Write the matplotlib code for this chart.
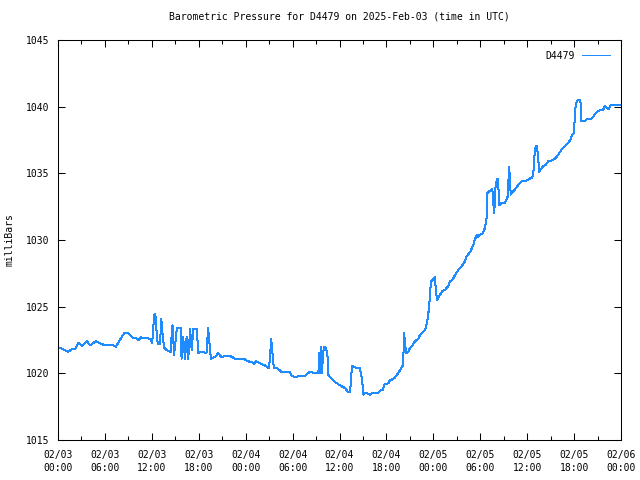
#!/usr/bin/env python3
from datetime import datetime, timedelta
import matplotlib
matplotlib.use("Agg")
import matplotlib.pyplot as plt
import matplotlib.dates as mdates

STATION = "D4479"
START = datetime(2025, 2, 3)
LINE_COLOR = "#1e8cff"

# hours after 2025-02-03 00:00 UTC
hours = [
    0.1, 0.5, 0.9, 1.3, 1.75, 2.2, 2.6, 3.1, 3.7, 4.1, 4.8, 5.4, 6.0, 6.65, 7.1,
    7.4, 7.9, 8.5, 9.0, 9.5, 10.1, 10.3, 10.6, 11.1, 11.75, 12.05, 12.3, 12.45,
    12.6, 12.75, 13.05, 13.2, 13.35, 13.55, 13.9, 14.4, 14.55, 14.65, 14.85,
    15.2, 15.7, 15.8, 16.0, 16.25, 16.45, 16.65, 16.9, 17.1, 17.3, 17.75, 17.95,
    18.15, 19.0, 19.2, 19.35, 19.55, 20.1, 20.5, 20.85, 22.0, 22.65, 23.0, 23.7,
    24.35, 24.95, 25.05, 25.3, 25.85, 26.45, 26.95, 27.1, 27.25, 27.35, 27.5,
    27.6, 28.0, 28.6, 29.65, 29.9, 30.5, 30.7, 31.6, 32.15, 33.3, 33.4, 33.5,
    33.65, 33.75, 33.9, 34.05, 34.25, 34.45, 34.55, 34.8, 35.15, 35.55, 36.05,
    36.7, 37.1, 37.35, 37.6, 37.85, 38.2, 38.6, 38.75, 38.9, 39.05, 39.25, 39.5,
    39.9, 40.25, 40.95, 41.2, 41.5, 41.8, 42.25, 42.45, 42.8, 43.1, 43.5, 43.75,
    44.1, 44.2, 44.25, 44.4, 44.5, 44.8, 45.0, 45.35, 45.65, 46.1, 46.3, 46.95,
    47.2, 47.45, 47.7, 47.9, 48.2, 48.35, 48.5, 48.85, 49.2, 49.5, 49.9, 50.15,
    50.5, 50.8, 51.2, 51.4, 51.6, 52.05, 52.25, 52.7, 53.1, 53.3, 53.55, 53.7,
    53.95, 54.3, 54.6, 54.75, 54.8, 54.9, 55.25, 55.55, 55.7, 55.8, 55.9, 56.1,
    56.25, 56.45, 56.55, 56.8, 57.15, 57.4, 57.5, 57.7, 57.8, 57.9, 58.1, 58.45,
    59.1, 59.3, 59.7, 60.35, 60.65, 60.8, 61.0, 61.2, 61.35, 61.55, 61.65, 62.0,
    62.3, 62.7, 62.9, 63.25, 63.55, 64.0, 64.35, 64.6, 64.9, 65.25, 65.5, 65.75,
    66.0, 66.1, 66.25, 66.45, 66.75, 66.85, 66.95, 67.1, 67.4, 67.8, 68.15,
    68.45, 68.65, 69.1, 69.7, 69.95, 70.15, 70.45, 70.7, 71.25, 71.9,
]

pressure = [
    1021.9, 1021.85, 1021.75, 1021.6, 1021.8, 1021.8, 1022.3, 1022.05, 1022.4,
    1022.1, 1022.4, 1022.25, 1022.1, 1022.1, 1022.1, 1022.0, 1022.5, 1023.05,
    1023.0, 1022.7, 1022.6, 1022.5, 1022.7, 1022.65, 1022.6, 1022.3, 1024.4,
    1024.45, 1023.2, 1022.2, 1022.2, 1024.1, 1023.1, 1021.95, 1021.75, 1021.6,
    1023.0, 1023.6, 1021.4, 1023.4, 1023.4, 1021.1, 1022.75, 1021.1, 1022.75,
    1021.1, 1023.3, 1021.75, 1023.3, 1023.3, 1021.5, 1021.6, 1021.55, 1023.4,
    1022.4, 1021.1, 1021.25, 1021.5, 1021.25, 1021.3, 1021.1, 1021.05, 1021.1,
    1020.9, 1020.8, 1020.7, 1020.9, 1020.75, 1020.6, 1020.4, 1021.0, 1022.6,
    1022.1, 1021.0, 1020.4, 1020.4, 1020.1, 1020.1, 1019.8, 1019.7, 1019.8,
    1019.8, 1020.1, 1020.0, 1021.5, 1020.0, 1022.0, 1020.0, 1021.5, 1022.0,
    1021.9, 1021.5, 1019.9, 1019.7, 1019.5, 1019.3, 1019.1, 1018.9, 1018.6,
    1018.6, 1020.55, 1020.5, 1020.4, 1020.4, 1019.9, 1019.5, 1018.4, 1018.5,
    1018.5, 1018.4, 1018.55, 1018.55, 1018.7, 1018.75, 1019.2, 1019.25, 1019.5,
    1019.55, 1019.7, 1020.0, 1020.25, 1020.6, 1021.75, 1023.0, 1022.25, 1021.5,
    1021.6, 1021.9, 1022.1, 1022.4, 1022.6, 1022.9, 1023.25, 1023.8, 1024.9,
    1026.9, 1027.0, 1027.2, 1026.0, 1025.5, 1025.9, 1026.2, 1026.25, 1026.55,
    1026.9, 1027.05, 1027.4, 1027.75, 1027.9, 1028.0, 1028.4, 1028.75, 1029.1,
    1029.6, 1030.0, 1030.4, 1030.2, 1030.4, 1030.5, 1030.9, 1031.5, 1031.6,
    1033.5, 1033.7, 1033.8, 1032.55, 1032.0, 1033.75, 1034.5, 1034.6, 1032.6,
    1032.7, 1032.8, 1032.8, 1033.1, 1033.25, 1035.5, 1034.5, 1033.4, 1033.6,
    1033.8, 1034.3, 1034.4, 1034.4, 1034.6, 1034.7, 1035.1, 1036.9, 1037.05,
    1036.5, 1035.1, 1035.25, 1035.5, 1035.6, 1035.9, 1035.9, 1036.0, 1036.1,
    1036.4, 1036.75, 1036.9, 1037.1, 1037.3, 1037.5, 1037.9, 1038.0, 1039.5,
    1040.25, 1040.5, 1040.5, 1040.25, 1038.9, 1038.9, 1038.95, 1039.1, 1039.05,
    1039.25, 1039.45, 1039.7, 1039.75, 1040.05, 1039.95, 1039.8, 1040.15,
    1040.15, 1040.15,
]

y_ticks = [1015, 1020, 1025, 1030, 1035, 1040, 1045]

plt.rcParams['font.family'] = ['DejaVu Sans Mono']
plt.rcParams['font.size'] = 7

times = [START + timedelta(hours=h) for h in hours]

fig = plt.figure(figsize=(6.4, 4.8), dpi=100)
ax = fig.add_axes([58 / 640, 40 / 480, 563 / 640, 400 / 480])

ax.plot(times, pressure, color=LINE_COLOR, linewidth=0.72, antialiased=False,
        label=STATION)

ax.set_xlim(START, START + timedelta(hours=72))
ax.set_ylim(y_ticks[0], y_ticks[-1])
ax.set_yticks(y_ticks)

ax.xaxis.set_major_locator(mdates.HourLocator(byhour=[0, 6, 12, 18]))
ax.xaxis.set_minor_locator(mdates.HourLocator(byhour=[3, 9, 15, 21]))
ax.xaxis.set_major_formatter(mdates.DateFormatter('%m/%d\n%H:%M'))

ax.tick_params(which='both', direction='in', top=True, right=True,
               width=0.75, color='black')
ax.tick_params(which='major', length=5)
ax.tick_params(which='minor', length=3)
ax.tick_params(axis='x', which='major', pad=7)
ax.tick_params(axis='y', which='major', pad=6)
for lbl in ax.get_xticklabels():
    lbl.set_linespacing(1.45)

for sp in ax.spines.values():
    sp.set_linewidth(0.75)

ax.set_title("Barometric Pressure for D4479 on 2025-Feb-03 (time in UTC)",
             fontsize=7, pad=15)
fig.text(10 / 640, 0.5, 'milliBars', rotation=90, va='center', ha='center')

ax.legend(loc='upper right', frameon=False, markerfirst=False,
          handlelength=2.9, borderaxespad=0.7, handletextpad=0.8)

fig.savefig('out.png', dpi=100)
